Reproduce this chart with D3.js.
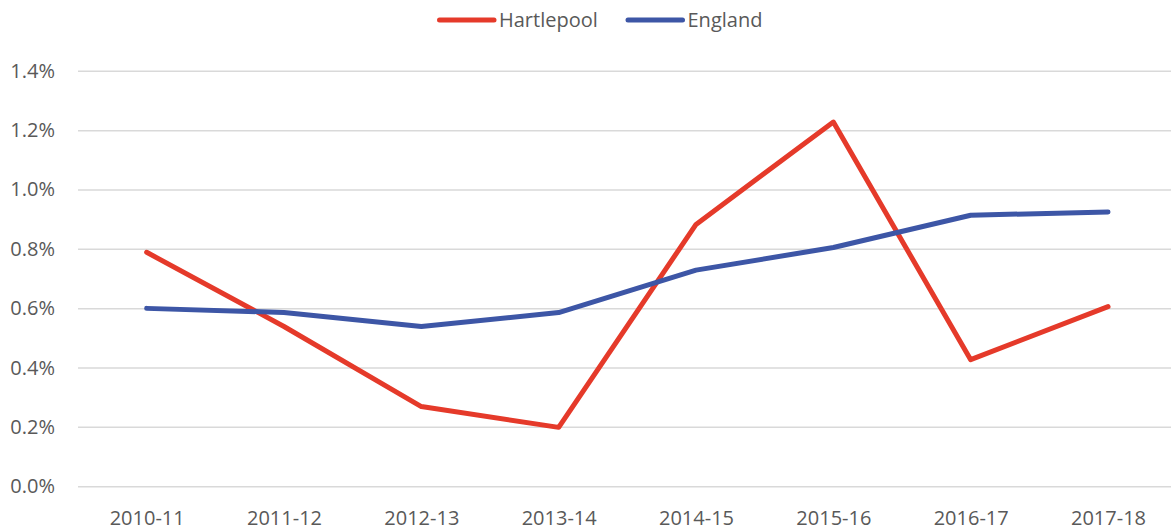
<!DOCTYPE html>
<html>
<head>
<meta charset="utf-8">
<script src="https://cdn.jsdelivr.net/npm/d3@7"></script>
<style>
  body { margin: 0; background: #fff; }
  svg text { font-family: "Open Sans", sans-serif; fill: #595959; }
</style>
</head>
<body>
<div class="main"></div>
<script>
const years = ["2010-11", "2011-12", "2012-13", "2013-14", "2014-15", "2015-16", "2016-17", "2017-18"];
const hartlepool = [0.0079, 0.0054, 0.0027, 0.0020, 0.00884, 0.01229, 0.00428, 0.00607];
const england = [0.00601, 0.00587, 0.00540, 0.00587, 0.00730, 0.00806, 0.00915, 0.00926];
const yTicks = [0, 0.002, 0.004, 0.006, 0.008, 0.010, 0.012, 0.014];

const w = 1171;
const h = 532;

const svg = d3.select(".main")
  .append("svg")
  .attr("width", w)
  .attr("height", h);

const xScale = d3.scalePoint()
  .domain(years)
  .range([78, 1176.7])
  .padding(0.5);

const yScale = d3.scaleLinear()
  .domain([0, 0.014])
  .range([486.7, 71.3]);

// gridlines
svg.append("g")
  .selectAll("line")
  .data(yTicks)
  .enter()
  .append("line")
  .attr("x1", 78)
  .attr("x2", w)
  .attr("y1", (d) => yScale(d))
  .attr("y2", (d) => yScale(d))
  .attr("stroke", "#d9d9d9")
  .attr("stroke-width", 1.5);

// y axis labels
const yAxis = d3.axisLeft(yScale)
  .tickValues(yTicks)
  .tickSize(0)
  .tickPadding(0)
  .tickFormat(d3.format(".1%"));

const gy = svg.append("g")
  .attr("transform", "translate(55,0)")
  .call(yAxis);
gy.select(".domain").remove();
gy.selectAll("text")
  .attr("font-size", "20px")
  .attr("font-family", null)
  .attr("dy", "0.3em");

// x axis labels
const xAxis = d3.axisBottom(xScale)
  .tickSize(0)
  .tickPadding(0);

const gx = svg.append("g")
  .attr("transform", "translate(0,486.7)")
  .call(xAxis);
gx.select(".domain").remove();
gx.selectAll("text")
  .attr("font-size", "20px")
  .attr("font-family", null)
  .attr("dy", null)
  .attr("y", 38.5);

const line = d3.line()
  .x((d, i) => xScale(years[i]))
  .y((d) => yScale(d));

const series = [
  { name: "Hartlepool", values: hartlepool, color: "#e53a2a" },
  { name: "England", values: england, color: "#3d56a6" }
];

series.forEach((s) => {
  svg.append("path")
    .datum(s.values)
    .attr("d", line)
    .attr("fill", "none")
    .attr("stroke", s.color)
    .attr("stroke-width", 5)
    .attr("stroke-linejoin", "round")
    .attr("stroke-linecap", "round");
});

// legend
const legendX = [439.5, 628];
series.forEach((s, i) => {
  svg.append("line")
    .attr("x1", legendX[i])
    .attr("x2", legendX[i] + 54.5)
    .attr("y1", 20)
    .attr("y2", 20)
    .attr("stroke", s.color)
    .attr("stroke-width", 5)
    .attr("stroke-linecap", "round");
  svg.append("text")
    .attr("x", legendX[i] + 59.5)
    .attr("y", 27)
    .attr("font-size", "20px")
    .text(s.name);
});
</script>
</body>
</html>
